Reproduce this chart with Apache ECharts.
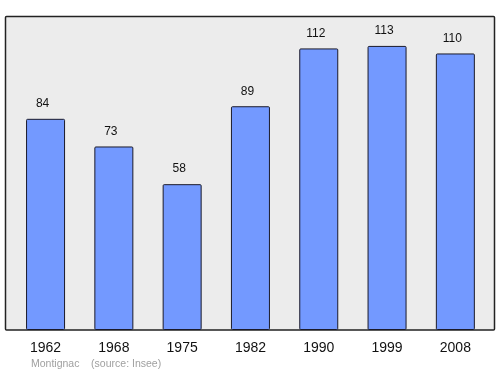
<!DOCTYPE html>
<html>
<head>
<meta charset="utf-8">
<script src="https://cdn.jsdelivr.net/npm/echarts@6/dist/echarts.min.js"></script>
<style>html,body{margin:0;padding:0;background:#fff;}#c{width:500px;height:374px;}</style>
</head>
<body>
<div id="c"></div>
<script>
var years = ['1962','1968','1975','1982','1990','1999','2008'];
var population = [84, 73, 58, 89, 112, 113, 110];
var footerText = 'Montignac    (source: Insee)';

var chart = echarts.init(document.getElementById('c'), null, {renderer: 'canvas'});
chart.setOption({
  animation: false,
  backgroundColor: '#ffffff',
  graphic: [
    {type: 'rect', shape: {x: 5.5, y: 16.5, width: 489, height: 313.5, r: 1},
     style: {fill: '#ececec', stroke: '#222', lineWidth: 1.5}, z: -10},
    {type: 'text', left: 31, top: 359,
     style: {text: footerText, fill: '#a0a0a0', font: '10.5px "Liberation Sans", Arial, sans-serif'}}
  ],
  grid: {left: 11.4, right: 10.5, top: 17, bottom: 44},
  xAxis: {
    type: 'category', data: years,
    axisLine: {show: false}, axisTick: {show: false},
    axisLabel: {color: '#111', fontSize: 14, margin: 11, fontFamily: '"Liberation Sans", Arial, sans-serif'}
  },
  yAxis: {type: 'value', min: 0, max: 124.5, show: false, splitLine: {show: false}},
  series: [{
    type: 'bar', data: population, barWidth: 39,
    itemStyle: {color: '#7399ff', borderColor: '#1a1a2a', borderWidth: 1, borderRadius: 1},
    label: {show: true, position: 'top', distance: 9, offset: [-3, 0], color: '#111', fontSize: 12,
            fontFamily: '"Liberation Sans", Arial, sans-serif'}
  }]
});
</script>
</body>
</html>
